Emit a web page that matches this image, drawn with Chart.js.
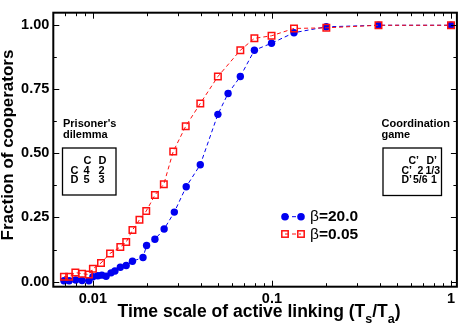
<!DOCTYPE html>
<html><head><meta charset="utf-8">
<script src="https://cdn.jsdelivr.net/npm/chart.js@4/dist/chart.umd.min.js"></script>
<style>html,body{margin:0;padding:0;background:#fff}#wrap{width:463px;height:328px}</style>
</head><body><div id="wrap"><canvas id="c" width="463" height="328"></canvas></div>
<script>
// ---- data ----
const blueX = [0.00689,0.00737,0.00802,0.0087,0.0095,0.01,0.01066,0.01122,0.01185,0.01263,0.01328,0.01423,0.01535,0.01663,0.01905,0.01995,0.0222,0.025,0.0285,0.0332,0.0398,0.0499,0.0569,0.0666,0.0798,0.0995,0.1328,0.2013,0.3936,1.0];
const blueY = [0.003,0.003,0.006,0.004,0.003,0.019,0.0225,0.025,0.021,0.034,0.041,0.056,0.0625,0.079,0.094,0.141,0.165,0.205,0.271,0.37,0.456,0.6525,0.734,0.80,0.9025,0.93,0.971,0.994,1.0,1.0];
const redX = [0.00689,0.00737,0.00798,0.0087,0.0095,0.01,0.0111,0.01247,0.01423,0.01535,0.01663,0.0182,0.01986,0.0222,0.0249,0.0281,0.033,0.0398,0.0499,0.0666,0.0798,0.0995,0.1328,0.2013,0.3936,1.0];
const redY = [0.019,0.019,0.035,0.031,0.0275,0.05,0.0725,0.11,0.135,0.154,0.201,0.241,0.275,0.3375,0.38,0.5075,0.606,0.695,0.80,0.9025,0.949,0.959,0.9875,0.99,1.0,1.0];
const xTickValues = [0.01, 0.1, 1];
const xTickLabels = ['0.01', '0.1', '1'];
const yTickValues = [0, 0.25, 0.5, 0.75, 1.0];
const yTickLabels = ['0.00', '0.25', '0.50', '0.75', '1.00'];
const seriesNames = ['\u03b2=20.0', '\u03b2=0.05'];
const yTitle = 'Fraction of cooperators';
const xTitleParts = [['Time scale of active linking (T', 0], ['s', 1], ['/T', 0], ['a', 1], [')', 0]];
const pdTitle = ["Prisoner's", 'dilemma'];
const cgTitle = ['Coordination', 'game'];

const FONT = '"Liberation Sans", Arial, Helvetica, sans-serif';
const BLUE = '#0000f0', RED = '#ff1010';

const toPts = (xs, ys) => xs.map((v, i) => ({x: v, y: ys[i]}));

const decor = {
  id: 'decor',
  afterDatasetsDraw(chart) {
    const {ctx, chartArea: a, scales: {x, y}} = chart;
    ctx.save();
    ctx.strokeStyle = '#000';
    ctx.lineWidth = 1;
    const ln = (x1, y1, x2, y2) => { ctx.beginPath(); ctx.moveTo(x1, y1); ctx.lineTo(x2, y2); ctx.stroke(); };
    for (let d = -3; d <= 0; d++) for (let k = 1; k <= 9; k++) {
      const v = k * Math.pow(10, d);
      if (v < x.min || v > x.max) continue;
      const px = Math.round(x.getPixelForValue(v)) + 0.5;
      const len = k === 1 ? 6 : 3.5;
      ln(px, a.bottom, px, a.bottom - len);
      ln(px, a.top, px, a.top + len);
    }
    for (let i = 0; i <= 8; i++) {
      const py = Math.round(y.getPixelForValue(i * 0.125)) + 0.5;
      const len = i % 2 === 0 ? 6 : 3.5;
      ln(a.left, py, a.left + len, py);
      ln(a.right, py, a.right - len, py);
    }
    ctx.lineWidth = 2;
    ctx.strokeRect(a.left, a.top, a.right - a.left, a.bottom - a.top);
    ctx.restore();
  },
  afterDraw(chart) {
    const {ctx} = chart;
    ctx.save();
    ctx.fillStyle = '#000';
    ctx.textBaseline = 'alphabetic';
    // y title
    ctx.save();
    ctx.translate(12.5, 145);
    ctx.rotate(-Math.PI / 2);
    ctx.textAlign = 'center';
    ctx.font = 'bold 17px ' + FONT;
    ctx.fillText(yTitle, 0, 0);
    ctx.restore();
    // x title with subscripts
    const mainF = 'bold 17.5px ' + FONT, subF = 'bold 12.5px ' + FONT;
    let total = 0;
    xTitleParts.forEach(([t, s]) => { ctx.font = s ? subF : mainF; total += ctx.measureText(t).width; });
    let cx = 259 - total / 2;
    ctx.textAlign = 'left';
    xTitleParts.forEach(([t, s]) => {
      ctx.font = s ? subF : mainF;
      ctx.fillText(t, cx, s ? 322.5 : 316.5);
      cx += ctx.measureText(t).width;
    });
    // annotations
    ctx.font = 'bold 11px ' + FONT;
    ctx.fillText(pdTitle[0], 63, 127);
    ctx.fillText(pdTitle[1], 63, 137.5);
    ctx.fillText(cgTitle[0], 381.5, 127);
    ctx.fillText(cgTitle[1], 381.5, 137.5);
    ctx.lineWidth = 1.3;
    ctx.strokeStyle = '#000';
    ctx.strokeRect(62.5, 148, 53.5, 47);
    ctx.strokeRect(383, 148, 58.5, 47.5);
    const rows = [164, 173.5, 183];
    // PD matrix
    ctx.fillText('C', 83.5, rows[0]); ctx.fillText('D', 98.5, rows[0]);
    ctx.fillText('C', 70.5, rows[1]); ctx.fillText('4', 83.5, rows[1]); ctx.fillText('2', 98.5, rows[1]);
    ctx.fillText('D', 70.5, rows[2]); ctx.fillText('5', 83.5, rows[2]); ctx.fillText('3', 98.5, rows[2]);
    // coordination matrix
    ctx.font = 'bold 10.5px ' + FONT;
    ctx.fillText('C\u2019', 408.5, rows[0]); ctx.fillText('D\u2019', 426.5, rows[0]);
    ctx.fillText('C\u2019', 401.5, rows[1]); ctx.fillText('2', 417.5, rows[1]); ctx.fillText('1/3', 425.5, rows[1]);
    ctx.fillText('D\u2019', 401.5, rows[2]); ctx.fillText('5/6', 413, rows[2]); ctx.fillText('1', 431, rows[2]);
    // legend
    const legY = [216.7, 234];
    const colors = [BLUE, RED];
    legY.forEach((ly, i) => {
      ctx.save();
      ctx.strokeStyle = colors[i];
      ctx.lineWidth = 1;
      ctx.setLineDash([4, 3]);
      ctx.beginPath(); ctx.moveTo(285, ly); ctx.lineTo(301, ly); ctx.stroke();
      ctx.setLineDash([]);
      [285, 301].forEach(mx => {
        if (i === 0) {
          ctx.fillStyle = BLUE;
          ctx.beginPath(); ctx.arc(mx, ly, 3.8, 0, Math.PI * 2); ctx.fill();
        } else {
          ctx.lineWidth = 1.5;
          ctx.strokeRect(mx - 3.2, ly - 3.2, 6.4, 6.4);
        }
      });
      ctx.restore();
      const name = seriesNames[i];
      ctx.font = '15.5px ' + FONT;
      ctx.fillText(name[0], 310, ly + 4.5);
      const w = ctx.measureText(name[0]).width;
      ctx.font = 'bold 15.5px ' + FONT;
      ctx.fillText(name.slice(1), 310 + w, ly + 4.5);
    });
    ctx.restore();
  }
};

new Chart(document.getElementById('c'), {
  type: 'scatter',
  data: {
    datasets: [
      {
        label: seriesNames[1], data: toPts(redX, redY), showLine: true,
        borderColor: RED, borderWidth: 1, borderDash: [4, 3],
        pointStyle: 'rect', pointRadius: 4.6, pointBorderWidth: 1.5,
        pointBackgroundColor: 'rgba(0,0,0,0)', pointBorderColor: RED, order: 0
      },
      {
        label: seriesNames[0], data: toPts(blueX, blueY), showLine: true,
        borderColor: BLUE, borderWidth: 1, borderDash: [4, 3],
        pointStyle: 'circle', pointRadius: 3.7, pointBorderWidth: 0,
        pointBackgroundColor: BLUE, pointBorderColor: BLUE, order: 1
      }
    ]
  },
  options: {
    responsive: false, animation: false, devicePixelRatio: 1,
    layout: {padding: {top: 1.7, right: 1.7, left: 0, bottom: 0}},
    plugins: {legend: {display: false}, tooltip: {enabled: false}},
    scales: {
      x: {
        type: 'logarithmic', min: 0.00601, max: 1.079,
        grid: {display: false, drawTicks: false}, border: {display: false},
        afterBuildTicks: s => { s.ticks = xTickValues.map(v => ({value: v})); },
        afterFit: s => { s.height = 41.3; },
        ticks: {
          autoSkip: false, maxRotation: 0, padding: 4, color: '#000',
          font: {family: FONT, size: 14.5, weight: 'bold'},
          callback: (v, i) => xTickLabels[i]
        }
      },
      y: {
        type: 'linear', min: -0.02, max: 1.049,
        grid: {display: false, drawTicks: false}, border: {display: false},
        afterBuildTicks: s => { s.ticks = yTickValues.map(v => ({value: v})); },
        afterFit: s => { s.width = 53.3; },
        ticks: {
          padding: 4, color: '#000',
          font: {family: FONT, size: 14.5, weight: 'bold'},
          callback: (v, i) => yTickLabels[i]
        }
      }
    }
  },
  plugins: [decor]
});
</script></body></html>
